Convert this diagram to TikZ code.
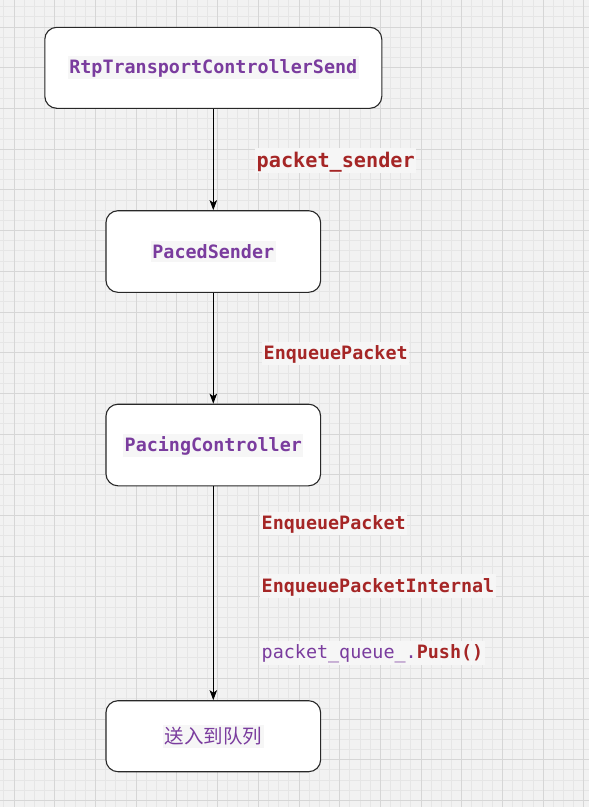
\documentclass[tikz,border=0pt]{standalone}
\usepackage{fontspec}
\setmonofont{DejaVu Sans Mono}
\newfontfamily\cjk{Noto Sans CJK SC}
\usetikzlibrary{arrows.meta}
\definecolor{bggray}{RGB}{242,242,242}
\definecolor{minorline}{RGB}{230,230,230}
\definecolor{majorline}{RGB}{214,214,214}
\definecolor{hlgray}{RGB}{246,246,246}
\definecolor{codepurple}{RGB}{122,60,158}
\definecolor{codered}{RGB}{165,38,38}
\definecolor{boxline}{RGB}{40,40,40}
\setlength{\fboxsep}{1.5pt}
\newcommand\hlbox[1]{\colorbox{hlgray}{\rule[-0.15em]{0pt}{1.03em}#1}}
\tikzset{
  flowbox/.style={draw=boxline, line width=1.1pt, fill=white, rounded corners=12pt,
    minimum width=214.7pt, inner sep=0pt, text=codepurple,
    font=\ttfamily\bfseries\fontsize{18.4}{19}\selectfont},
  lbl/.style={anchor=west, inner sep=0pt, text=codered,
    font=\ttfamily\bfseries\fontsize{18.4}{19}\selectfont},
  flowarrow/.style={draw=black, line width=0.9pt, -{Stealth[length=10pt,width=7.5pt,inset=2.5pt]}},
  minorgrid/.style={draw=minorline, line width=0.8pt},
  majorgrid/.style={draw=majorline, line width=0.8pt}
}
\begin{document}
\begin{tikzpicture}[x=1pt,y=-1pt]
\useasboundingbox (0,0) rectangle (589,807);
\fill[bggray] (0,0) rectangle (589,807);
% minor grid
\foreach \i in {0,...,58}{
  \pgfmathsetmacro\xx{3.83+\i*10.175}
  \draw[minorgrid] (\xx,0) -- (\xx,807);
}
\foreach \i in {0,...,79}{
  \pgfmathsetmacro\yy{6.66+\i*10.175}
  \draw[minorgrid] (0,\yy) -- (589,\yy);
}
% major grid
\foreach \i in {0,...,14}{
  \pgfmathsetmacro\xx{14.0+\i*40.7}
  \draw[majorgrid] (\xx,0) -- (\xx,807);
}
\foreach \i in {0,...,19}{
  \pgfmathsetmacro\yy{27.0+\i*40.7}
  \draw[majorgrid] (0,\yy) -- (589,\yy);
}

% boxes
\node[flowbox, minimum width=337pt, minimum height=81pt] (rtp) at (213.3,67.8) {\hlbox{RtpTransportControllerSend}};
\node[flowbox, minimum height=81.6pt] (paced) at (213.3,251.5) {\hlbox{PacedSender}};
\node[flowbox, minimum height=81.6pt] (pacing) at (213.3,445.0) {\hlbox{PacingController}};
\node[flowbox, minimum height=71pt, font=\cjk\fontsize{19.5}{20}\selectfont] (queue) at (213.3,736.2) {\hlbox{送入到队列}};

% arrows
\draw[flowarrow] (rtp.south) -- (paced.north);
\draw[flowarrow] (paced.south) -- (pacing.north);
\draw[flowarrow] (pacing.south) -- (queue.north);

% labels
\node[lbl, font=\ttfamily\bfseries\fontsize{20.2}{21}\selectfont] (l1) at (255,160.7) {\hlbox{packet\_sender}};
\node[lbl] (l2) at (262,353.5) {\hlbox{EnqueuePacket}};
\node[lbl] (l3) at (260,523.5) {\hlbox{EnqueuePacket}};
\node[lbl] (l4) at (260,586.0) {\hlbox{EnqueuePacketInternal}};
\node[lbl] (l5) at (260,653.0) {\hlbox{\textmd{\color{codepurple}packet\_queue\_.}Push()}};
\end{tikzpicture}
\end{document}
